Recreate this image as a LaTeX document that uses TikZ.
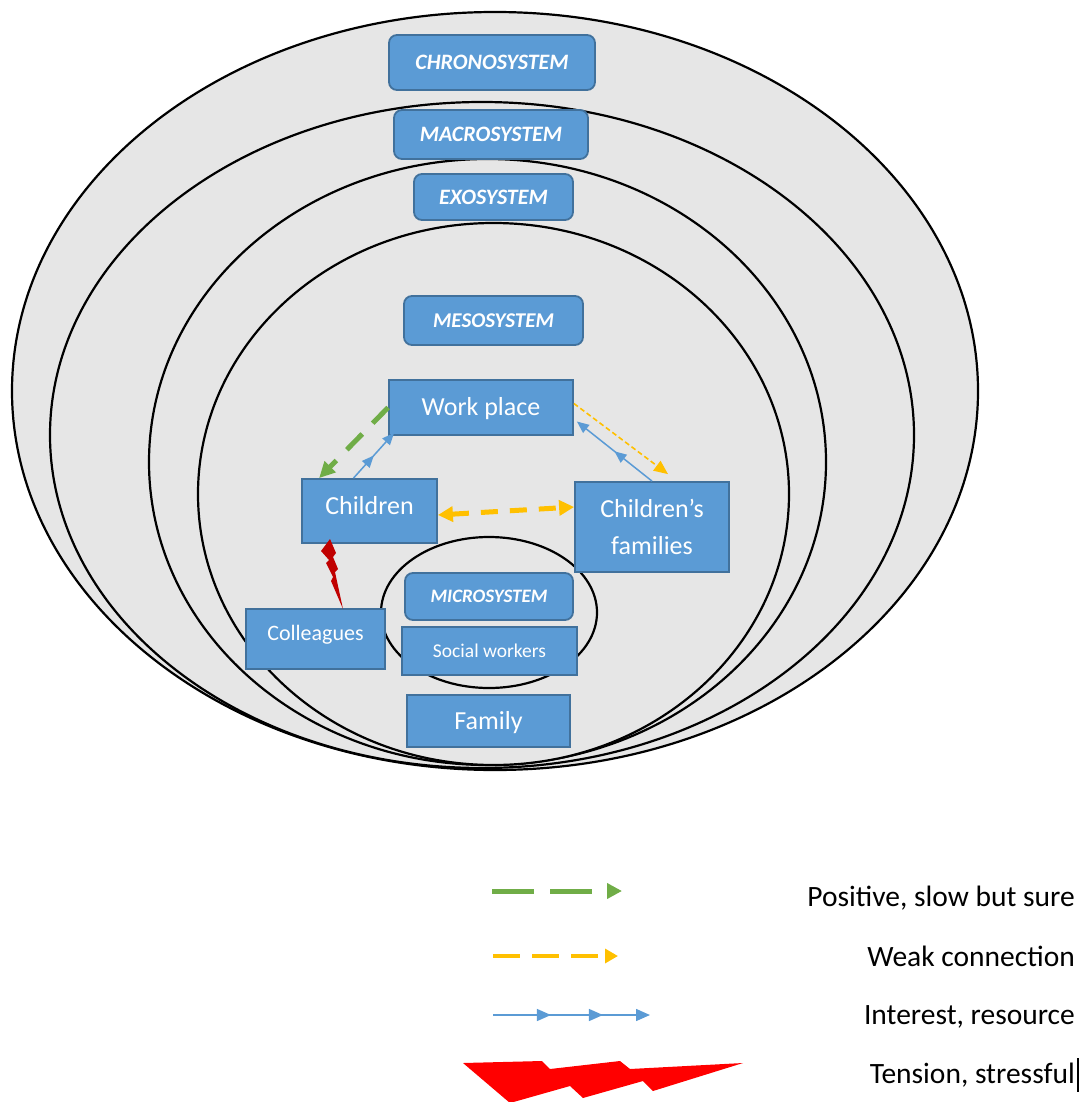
\documentclass[tikz,border=0pt]{standalone}
\usepackage{fontspec}
\setmainfont{Carlito}
\usetikzlibrary{arrows.meta,decorations.markings}
\definecolor{boxblue}{HTML}{5B9BD5}
\definecolor{boxedge}{HTML}{41719C}
\definecolor{shellgrey}{HTML}{E6E6E6}
\definecolor{posgreen}{HTML}{70AD47}
\definecolor{weakgold}{HTML}{FFC000}
\definecolor{tensred}{HTML}{FF0000}
\definecolor{boltred}{HTML}{C00000}

\begin{document}
\begin{tikzpicture}[x=1pt,y=-1pt,
  shell/.style={fill=shellgrey, draw=black, line width=2.2pt},
  sysbox/.style={draw=boxedge, fill=boxblue, line width=1.8pt, rounded corners=8pt,
    text=white, inner sep=0pt, text height=14.2pt, text depth=0pt,
    font=\fontsize{22}{26}\selectfont\bfseries\itshape},
  actbox/.style={draw=boxedge, fill=boxblue, line width=1.8pt, text=white,
    inner sep=0pt, align=center, font=\fontsize{26}{37}\selectfont},
  greenlink/.style={draw=posgreen, line width=5pt, dash pattern=on 22pt off 15pt,
    -{Triangle[length=16pt,width=15pt]}},
  weaklink/.style={draw=weakgold, line width=5pt, dash pattern=on 17pt off 12pt,
    {Triangle[length=15pt,width=15pt]}-{Triangle[length=15pt,width=15pt]}},
  weakthin/.style={draw=weakgold, line width=1.6pt, dash pattern=on 5pt off 3pt,
    -{Triangle[length=14pt,width=12pt]}},
  interest/.style={draw=boxblue, line width=1.5pt, -{Triangle[length=12pt,width=10pt]},
    postaction={decorate},
    decoration={markings, mark=at position 0.5 with {\arrow{Triangle[length=12pt,width=10pt]}}}},
  legendtext/.style={anchor=base east, inner sep=0pt, text=black,
    font=\fontsize{29.5}{34}\selectfont}
]
\useasboundingbox (0,0) rectangle (1088,1102);

% nested system shells, outermost first
\path[shell] (495,391) ellipse [x radius=483pt, y radius=379pt];
\path[shell] (482,435) ellipse [x radius=432pt, y radius=333pt];
\path[shell] (487.5,462) ellipse [x radius=338.5pt, y radius=303pt];
\path[shell] (493.5,494) ellipse [x radius=295.5pt, y radius=271pt];
\path[shell] (489,612.5) ellipse [x radius=108pt, y radius=75.5pt];

% system labels
\node[sysbox, minimum width=206pt, minimum height=55pt] (chrono) at (492,62.5) {CHRONOSYSTEM};
\node[sysbox, minimum width=194pt, minimum height=49pt] (macro) at (491,134.5) {MACROSYSTEM};
\node[sysbox, minimum width=159pt, minimum height=46pt] (exo) at (493.5,197) {EXOSYSTEM};
\node[sysbox, minimum width=179pt, minimum height=49pt, text height=13.5pt,
  font=\fontsize{21}{25}\selectfont\bfseries\itshape] (meso) at (493.5,320.5) {MESOSYSTEM};
\node[sysbox, minimum width=168pt, minimum height=47pt, text height=12.2pt,
  font=\fontsize{19}{23}\selectfont\bfseries\itshape] (micro) at (489,596.5) {MICROSYSTEM};

% actors
\node[actbox, minimum width=184pt, minimum height=55pt, text height=16.7pt, text depth=0pt] (wp) at (481,407.5) {Work place};
\node[actbox, minimum width=135pt, minimum height=64pt, text height=16.7pt, text depth=10.7pt] (ch) at (369.5,511) {Children};
\node[actbox, minimum width=154pt, minimum height=90pt] (cf) at (652,527) {Children’s\\families};
\node[actbox, minimum width=139pt, minimum height=60pt, font=\fontsize{22}{26}\selectfont, text height=14.2pt, text depth=12.2pt] (col) at (315.5,639) {Colleagues};
\node[actbox, minimum width=175pt, minimum height=48pt, font=\fontsize{19.5}{23}\selectfont, text height=12.6pt, text depth=0pt] (sw) at (489.5,651) {Social workers};
\node[actbox, minimum width=163pt, minimum height=52pt, text height=16.7pt, text depth=0pt] (fam) at (488.5,721) {Family};

% relations between actors
\draw[greenlink] (wp.west) -- ([xshift=18pt]ch.north west);
\draw[interest] ([xshift=-16pt]ch.north) -- ([xshift=6pt,yshift=3pt]wp.south west);
\draw[weakthin] ([yshift=4pt]wp.east) -- ([xshift=16pt,yshift=7pt]cf.north);
\draw[interest] (cf.north) -- ([xshift=3pt,yshift=-14pt]wp.east);
\draw[weaklink] ([yshift=-4pt]ch.east) -- ([yshift=20pt]cf.west);

% tension bolt between children and colleagues
\fill[boltred] (330,539) -- (336,553) -- (333,557) -- (338,569) -- (335,572) -- (343,609)
  -- (331,581) -- (333,577) -- (326,563) -- (329,560) -- (321,551) -- cycle;

% legend
\coordinate (g1) at (492,891);  \coordinate (g2) at (622,891);
\coordinate (y1) at (493,956);  \coordinate (y2) at (618,956);
\coordinate (b1) at (493,1015); \coordinate (b2) at (650,1015);
\draw[greenlink, dash pattern=on 42pt off 16pt, -{Triangle[length=15pt,width=15pt]}] (g1) -- (g2);
\draw[weaklink, dash pattern=on 27pt off 12pt, line width=4pt, -{Triangle[length=13pt,width=14pt]}] (y1) -- (y2);
\draw[draw=boxblue, line width=1.5pt, -{Triangle[length=14pt,width=12pt]},
  postaction={decorate},
  decoration={markings,
    mark=at position 0.369 with {\arrow{Triangle[length=14pt,width=12pt]}},
    mark=at position 0.70 with {\arrow{Triangle[length=14pt,width=12pt]}}}] (b1) -- (b2);
\fill[tensred] (463,1063) -- (542,1061) -- (550,1069) -- (620,1061) -- (630,1069) -- (743,1063)
  -- (653,1091) -- (643,1081) -- (583,1098) -- (570,1086) -- (510,1103) -- cycle;

\node[legendtext] (l1) at (1075,906) {Positive, slow but sure};
\node[legendtext] (l2) at (1075,966) {Weak connection};
\node[legendtext] (l3) at (1075,1024) {Interest, resource};
\node[legendtext] (l4) at (1075,1083) {Tension, stressful};
\coordinate (c1) at (1078,1058); \coordinate (c2) at (1078,1092);
\draw[line width=1.2pt] (c1) -- (c2);
\end{tikzpicture}
\end{document}
